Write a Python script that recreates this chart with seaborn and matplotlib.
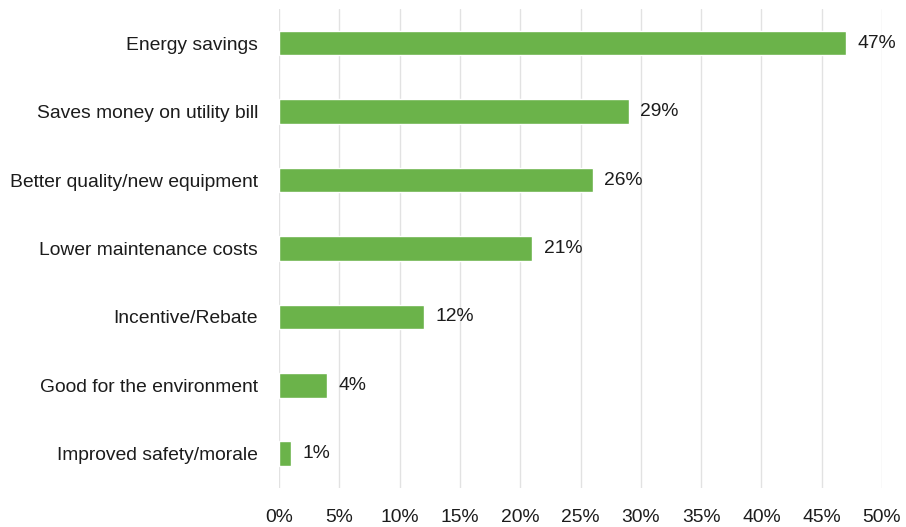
import matplotlib
matplotlib.use("Agg")
import matplotlib.pyplot as plt
import seaborn as sns
import pandas as pd

categories = [
    "Energy savings",
    "Saves money on utility bill",
    "Better quality/new equipment",
    "Lower maintenance costs",
    "Incentive/Rebate",
    "Good for the environment",
    "Improved safety/morale",
]
percent = [47, 29, 26, 21, 12, 4, 1]
x_ticks = [0, 5, 10, 15, 20, 25, 30, 35, 40, 45, 50]
x_tick_labels = [f"{t}%" for t in x_ticks]

df = pd.DataFrame({"reason": categories, "percent": percent})

sns.set_theme(style="white")
plt.rcParams["font.family"] = ["Liberation Sans", "DejaVu Sans"]

fig = plt.figure(figsize=(9.06, 5.27), dpi=100)
ax = fig.add_axes([0.308, 0.074, 0.6655, 0.909])

bar_color = "#6bb34a"
sns.barplot(data=df, x="percent", y="reason", orient="h", color=bar_color,
            saturation=1, width=0.36, ax=ax)

ax.set_xlim(0, 50)
ax.set_ylim(6.5, -0.5)
ax.set_xticks(x_ticks)
ax.set_xticklabels(x_tick_labels)
ax.xaxis.grid(True, color="#e2e2e2", linewidth=1)
ax.set_axisbelow(True)
for s in ax.spines.values():
    s.set_visible(False)
ax.set_xlabel("")
ax.set_ylabel("")
fs = 13.9
ax.tick_params(axis="x", length=0, pad=15, labelsize=fs, colors="#1c1c1c")
ax.tick_params(axis="y", length=0, pad=15, labelsize=fs, colors="#1c1c1c")

for i, v in enumerate(percent):
    ax.text(v + 0.95, i, f"{v}%", va="center", ha="left",
            fontsize=fs, color="#1c1c1c")

fig.savefig("out.png", dpi=100, facecolor="white")
